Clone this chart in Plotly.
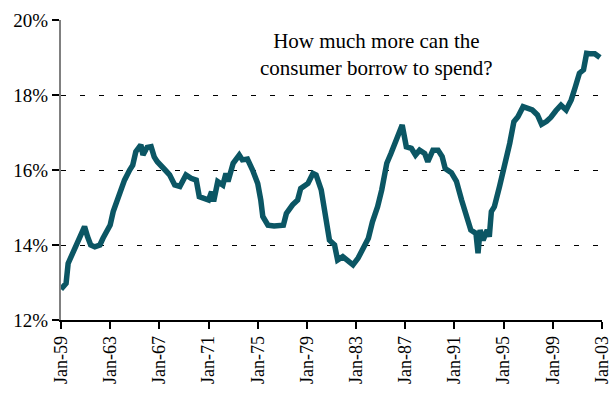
import plotly.graph_objects as go

dates = [
    "1959-01", "1959-06", "1959-08", "1959-11", "1960-03", "1960-07", "1960-12",
    "1961-03", "1961-06", "1961-10", "1962-03", "1962-06", "1963-01", "1963-04",
    "1963-08", "1964-03", "1964-08", "1964-11", "1965-02", "1965-07", "1965-09",
    "1966-01", "1966-05", "1966-08", "1966-11", "1967-03", "1967-06", "1967-11",
    "1968-04", "1968-09", "1969-03", "1969-08", "1970-01", "1970-04", "1970-09",
    "1971-01", "1971-04", "1971-06", "1971-10", "1972-03", "1972-06", "1972-08",
    "1973-01", "1973-07", "1973-10", "1974-03", "1974-08", "1975-01", "1975-04",
    "1975-06", "1975-11", "1976-05", "1977-02", "1977-05", "1977-11", "1978-04",
    "1978-07", "1979-02", "1979-07", "1979-10", "1980-03", "1980-08", "1980-11",
    "1981-04", "1981-07", "1981-12", "1982-05", "1982-10", "1983-03", "1983-07",
    "1984-01", "1984-05", "1984-10", "1985-02", "1985-07", "1985-11", "1986-04",
    "1986-10", "1987-02", "1987-07", "1987-11", "1988-03", "1988-08", "1988-11",
    "1989-04", "1989-09", "1990-01", "1990-04", "1990-10", "1991-03", "1991-08",
    "1992-01", "1992-05", "1992-10", "1992-12", "1993-02", "1993-05", "1993-09",
    "1993-11", "1994-01", "1994-04", "1994-09", "1995-02", "1995-07", "1995-11",
    "1996-03", "1996-08", "1997-01", "1997-05", "1997-10", "1998-02", "1998-07",
    "1998-11", "1999-04", "1999-09", "2000-02", "2000-07", "2000-11", "2001-03",
    "2001-07", "2001-10", "2002-01", "2002-06", "2002-11",
]

values = [
    12.82, 12.98, 13.51, 13.69, 13.91, 14.18, 14.49,
    14.22, 14.00, 13.95, 14.00, 14.18, 14.53, 14.89,
    15.20, 15.73, 16.00, 16.13, 16.49, 16.67, 16.40,
    16.60, 16.62, 16.35, 16.22, 16.13, 16.02, 15.87,
    15.60, 15.56, 15.87, 15.78, 15.73, 15.29, 15.24,
    15.20, 15.42, 15.16, 15.69, 15.60, 15.91, 15.69,
    16.18, 16.40, 16.27, 16.29, 16.00, 15.64, 15.20,
    14.76, 14.53, 14.51, 14.53, 14.84, 15.07, 15.20,
    15.51, 15.64, 15.91, 15.87, 15.47, 14.67, 14.13,
    14.00, 13.60, 13.69, 13.60, 13.47, 13.65, 13.85,
    14.18, 14.62, 15.02, 15.47, 16.18, 16.44, 16.76,
    17.20, 16.62, 16.58, 16.40, 16.53, 16.44, 16.22,
    16.53, 16.53, 16.36, 16.04, 15.93, 15.70, 15.20,
    14.76, 14.40, 14.31, 13.78, 14.40, 14.13, 14.40,
    14.22, 14.89, 15.02, 15.56, 16.09, 16.71, 17.29,
    17.42, 17.69, 17.64, 17.60, 17.47, 17.22, 17.30,
    17.40, 17.58, 17.73, 17.60, 17.87, 18.22, 18.58,
    18.67, 19.11, 19.10, 19.10, 19.00,
]

x_ticks = ["1959-01-01", "1963-01-01", "1967-01-01", "1971-01-01", "1975-01-01",
           "1979-01-01", "1983-01-01", "1987-01-01", "1991-01-01", "1995-01-01",
           "1999-01-01", "2003-01-01"]
x_tick_labels = ["Jan-59", "Jan-63", "Jan-67", "Jan-71", "Jan-75", "Jan-79",
                 "Jan-83", "Jan-87", "Jan-91", "Jan-95", "Jan-99", "Jan-03"]
y_ticks = [12, 14, 16, 18, 20]
y_tick_labels = ["12%", "14%", "16%", "18%", "20%"]

title_text = "How much more can the<br>consumer borrow to spend?"

serif = "Liberation Serif, Times New Roman, serif"

fig = go.Figure()
fig.add_trace(go.Scatter(
    x=dates, y=values, mode="lines",
    line=dict(color="#0B5664", width=5.5, shape="linear"),
    showlegend=False,
))

fig.update_layout(
    width=613, height=394,
    margin=dict(l=61, r=11, t=20, b=74),
    paper_bgcolor="white", plot_bgcolor="white",
    font=dict(family=serif, color="black", size=16),
    xaxis=dict(
        type="date",
        range=["1959-01-01", "2003-01-01"],
        tickmode="array", tickvals=x_ticks, ticktext=x_tick_labels,
        tickangle=-90, automargin=False,
        ticks="outside", ticklen=7, tickwidth=1.5, tickcolor="black",
        showline=True, linecolor="black", linewidth=1.5,
        showgrid=False, zeroline=False,
        tickfont=dict(family=serif, size=18, color="black"),
    ),
    yaxis=dict(
        range=[12, 20], automargin=False,
        tickmode="array", tickvals=y_ticks, ticktext=y_tick_labels,
        ticks="outside", ticklen=7, tickwidth=1.5, tickcolor="black",
        showline=True, linecolor="#808080", linewidth=2,
        showgrid=True, gridcolor="black", gridwidth=1, griddash="5px,14px",
        zeroline=False,
        tickfont=dict(family=serif, size=19, color="black"),
    ),
    annotations=[dict(
        text=title_text, xref="paper", yref="paper",
        x=0.584, y=0.885, xanchor="center", yanchor="middle",
        showarrow=False, align="center",
        font=dict(family=serif, size=21, color="black"),
    )],
)

fig.write_html("out.html")
